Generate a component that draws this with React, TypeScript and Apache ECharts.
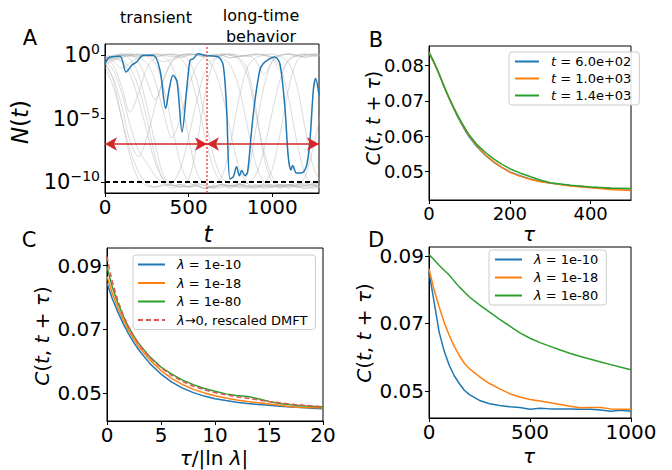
import React, { useEffect, useRef } from "react";
import * as echarts from "echarts";

// ---------- Panel A data (log10 N(t)) ----------
const T_GRID = [0, 50, 100, 150, 200, 250, 300, 350, 400, 450, 500, 550, 600, 650, 700, 750, 800, 850, 900, 950, 1000, 1050, 1100, 1150, 1200, 1250, 1300];
const GREY = [
  [-0.3, -0.2, 0, -0.1, 0.1, 0, -0.2, -0.5, -0.3, 0, 0.1, 0, -0.1, 0.1, 0, -0.2, -0.1, 0, 0.1, 0, -0.1, 0, 0.1, -0.1, 0, 0.1, 0],
  [-0.5, -2, -5, -8, -9.8, -10.3, -10.4, -10.2, -10.5, -10.3, -10.4, -10.2, -10.3, -10.5, -10.4, -10.3, -10.2, -10.4, -10.5, -10.3, -10.4, -10.2, -10.3, -10.4, -10.5, -10.3, -10.4],
  [-0.2, -0.1, 0, -0.3, -1.5, -4, -7, -9.5, -10.2, -10.4, -9.8, -7, -3, -0.5, 0, 0.1, -0.2, -1, -4, -8, -10, -10.3, -10.4, -10.2, -10.3, -10.1, -10.2],
  [-0.8, -0.4, -0.1, 0, 0.1, 0, -0.1, 0, 0.1, -0.2, -1.2, -3.5, -6.5, -9, -10.1, -10.3, -10.2, -9.5, -6, -2.5, -0.5, 0, 0.1, 0, -0.1, 0, 0.1],
  [-0.4, -1.2, -3, -5.5, -7.5, -8.5, -9.5, -10.1, -10.3, -10.2, -10.4, -10.3, -10.5, -10.2, -9.6, -7, -3.5, -1, -0.2, 0, 0.1, -0.1, -0.6, -2.5, -6, -9, -10.1],
  [-0.1, 0, 0.1, 0, -0.2, -0.6, -2, -4.5, -6.5, -5, -2.5, -0.8, -0.1, 0, 0.1, 0, -0.3, -1.5, -4.5, -7.5, -9.6, -10.3, -10.2, -10.4, -10.3, -10.2, -10.3],
  [-0.6, -0.3, -0.5, -1.5, -3.5, -6, -8.5, -9.8, -10.2, -10.4, -10.3, -10.1, -10.3, -10.4, -10.2, -10.3, -10.4, -10.5, -10.3, -10.1, -9, -6, -2.5, -0.4, 0, 0.1, 0],
  [-0.2, -0.5, -1, -0.6, -0.2, 0, 0.1, 0, -0.1, 0, 0.1, 0.05, -0.1, 0, -0.2, -0.8, -2.5, -5.5, -8.5, -10, -10.3, -10.4, -10.2, -10.3, -10.5, -10.4, -10.3],
  [-0.3, -0.8, -2.5, -4.5, -3, -1, -0.2, 0, 0.1, 0, -0.4, -2, -5, -8, -9.7, -10.2, -10.4, -10.3, -10.2, -10.4, -10.3, -10.5, -10.2, -10.3, -9.5, -7, -4],
  [-0.5, -0.2, 0, 0.1, 0, -0.1, 0, 0.1, 0, -0.2, 0, 0.1, 0, -0.1, 0.1, 0, -0.1, 0, -0.4, -1.5, -0.5, 0, 0.1, 0, -0.2, 0, 0.1],
  [-0.9, -2.5, -5, -7.5, -9.2, -10.1, -10.4, -10.3, -10.1, -9, -6.5, -3.5, -1.2, -0.3, 0, 0.1, 0, -0.1, 0, 0.1, -0.2, -1, -3.5, -7, -9.5, -10.2, -10.4],
  [-0.1, -0.3, -0.2, 0, -0.5, -2, -3.5, -2, -0.5, 0, 0.1, 0, -0.2, -1, -3, -6, -8.8, -10.1, -10.4, -10.3, -10.2, -10.4, -10.3, -10.1, -10.3, -10.5, -10.4],
  [-0.4, -0.1, 0, 0.1, 0, -0.1, -0.6, -2.5, -5.5, -8.5, -10, -10.3, -10.5, -10.4, -10.2, -10.3, -10.1, -10.4, -10.3, -10.5, -10.4, -10.2, -10.3, -10.4, -10.2, -10.3, -10.5],
  [-0.7, -1.8, -4, -6.8, -8, -6.5, -4, -1.8, -0.5, -0.1, 0, 0.1, 0, -0.1, 0, -0.2, -0.1, 0, 0.1, 0, -0.3, -1.2, -0.4, 0, 0.1, 0, -0.1],
  [-0.3, -0.1, -0.4, -1, -2.5, -5, -8, -9.9, -10.3, -10.2, -10.4, -10.3, -10.5, -10.3, -10.2, -10.4, -10.3, -10.1, -9.5, -7.5, -4.5, -1.8, -0.3, 0, 0.1, -0.1, 0],
  [-0.2, -0.1, 0.1, 0, -0.1, 0, 0.1, -0.1, -0.8, -3, -6.5, -9.3, -10.2, -10.4, -10.3, -10.5, -10.2, -10.3, -10.4, -10.2, -10.4, -10.3, -10.5, -10.2, -10.1, -10.3, -10.4],
];
const BLUE_T = [0, 15, 30, 90, 126, 160, 189, 230, 289, 329, 363, 385, 407, 431, 461, 490, 509, 529, 558, 597, 677, 707, 727, 747, 767, 787, 804, 818, 837, 853, 877, 897, 926, 946, 986, 1016, 1046, 1076, 1096, 1112, 1122, 1146, 1176, 1206, 1226, 1246, 1260, 1280];
const BLUE_N = [-0.72, -0.3, -0.13, -0.08, -1.32, -0.79, -0.53, 0, 0, -1.18, -4.2, -2.6, -1.58, -2.1, -6.05, -2.5, -0.39, -0.26, 0.13, 0, -0.13, -0.79, -4.1, -9.76, -9.6, -8.8, -9.5, -9.1, -9.5, -9.2, -5.9, -3.55, -1.18, -0.66, -0.26, -0.13, -0.66, -4.1, -8.0, -9.05, -8.7, -9.3, -9.3, -8.7, -6.7, -2.76, -1.84, -3.16];
const A_XTICKS = [0, 500, 1000];
const A_YTICKS = [-10, -5, 0];
const T_SPLIT = 610;
const ARROW_LEVEL = -7;
const FLOOR_LEVEL = -10;

// ---------- Panel B ----------
const B_TAU = [0, 10, 20, 30, 40, 50, 60, 70, 80, 90, 100, 120, 140, 160, 180, 200, 225, 250, 275, 300, 350, 400, 450, 500];
const B_600 = [0.0838, 0.0815, 0.079, 0.0762, 0.0733, 0.0706, 0.0681, 0.0657, 0.0635, 0.0615, 0.0597, 0.0568, 0.0545, 0.0526, 0.0511, 0.0498, 0.0487, 0.0478, 0.0471, 0.0466, 0.0459, 0.0454, 0.0451, 0.045];
const B_1000 = [0.0838, 0.0815, 0.079, 0.0762, 0.0733, 0.0707, 0.0683, 0.066, 0.0638, 0.0618, 0.06, 0.057, 0.0546, 0.0527, 0.0511, 0.0497, 0.0486, 0.0477, 0.047, 0.0466, 0.0458, 0.0453, 0.0448, 0.0445];
const B_1400 = [0.0838, 0.0815, 0.079, 0.0762, 0.0734, 0.0708, 0.0684, 0.0661, 0.064, 0.062, 0.0602, 0.0574, 0.0553, 0.0535, 0.052, 0.0507, 0.0495, 0.0485, 0.0475, 0.0467, 0.046, 0.0455, 0.0452, 0.0451];
const B_XTICKS = [0, 200, 400];
const B_YTICKS = [0.05, 0.06, 0.07, 0.08];

// ---------- Panel C ----------
const C_X = [0, 0.25, 0.5, 1, 1.5, 2, 2.5, 3, 4, 5, 6, 7, 8, 9, 10, 11, 12, 13, 14, 15, 16, 17, 18, 19, 20];
const C_10 = [0.0845, 0.082, 0.0795, 0.0755, 0.0718, 0.0686, 0.0658, 0.0633, 0.0592, 0.056, 0.0535, 0.0516, 0.0502, 0.0491, 0.0483, 0.0477, 0.0472, 0.0468, 0.0465, 0.0462, 0.0459, 0.0457, 0.0455, 0.0453, 0.0451];
const C_18 = [0.0866, 0.0838, 0.0812, 0.0768, 0.073, 0.0697, 0.0668, 0.0643, 0.0603, 0.0571, 0.0546, 0.0527, 0.0512, 0.0501, 0.0492, 0.0485, 0.0479, 0.0474, 0.047, 0.0466, 0.0462, 0.0458, 0.0455, 0.0455, 0.0454];
const C_80 = [0.0897, 0.0862, 0.0832, 0.0783, 0.0742, 0.0707, 0.0678, 0.0653, 0.0613, 0.0582, 0.056, 0.0541, 0.0527, 0.0515, 0.0506, 0.0498, 0.0493, 0.049, 0.0483, 0.0474, 0.0468, 0.0464, 0.0461, 0.0459, 0.0458];
const C_DMFT = [0.0928, 0.0885, 0.0848, 0.079, 0.0745, 0.0708, 0.0677, 0.0651, 0.0611, 0.058, 0.0556, 0.0537, 0.0522, 0.0511, 0.0502, 0.0495, 0.0489, 0.0484, 0.0479, 0.0474, 0.047, 0.0466, 0.0463, 0.046, 0.0457];
const C_XTICKS = [0, 5, 10, 15, 20];
const CD_YTICKS = [0.05, 0.07, 0.09];

// ---------- Panel D ----------
const D_TAU = [0, 25, 50, 75, 100, 125, 150, 175, 200, 250, 300, 350, 400, 450, 500, 550, 600, 650, 700, 750, 800, 850, 900, 950, 1000];
const D_10 = [0.0853, 0.0764, 0.0675, 0.0618, 0.0576, 0.0545, 0.0522, 0.0502, 0.0489, 0.0472, 0.0462, 0.0457, 0.0453, 0.0451, 0.0446, 0.0449, 0.0447, 0.0447, 0.0447, 0.0446, 0.0446, 0.0444, 0.044, 0.0443, 0.044];
const D_18 = [0.0862, 0.08, 0.0749, 0.0703, 0.0665, 0.0632, 0.0605, 0.0582, 0.0566, 0.0542, 0.0522, 0.0506, 0.0492, 0.0482, 0.0475, 0.047, 0.0465, 0.046, 0.0455, 0.045, 0.0451, 0.0451, 0.0447, 0.0446, 0.0446];
const D_80 = [0.0904, 0.0888, 0.0872, 0.0857, 0.0843, 0.0825, 0.0808, 0.0793, 0.0778, 0.0755, 0.0733, 0.0712, 0.0692, 0.0672, 0.0656, 0.0643, 0.0632, 0.0621, 0.0611, 0.0602, 0.0594, 0.0586, 0.0578, 0.057, 0.0563];
const D_XTICKS = [0, 500, 1000];

const BLUE = "#1f77b4";
const ORANGE = "#ff7f0e";
const GREEN = "#2ca02c";
const RED = "#d62728";
const FONT = "DejaVu Sans";

const zip = (xs: number[], ys: number[]) => xs.map((x, i) => [x, ys[i]]);

const LEGEND_LABELS: Record<string, string> = {
  b600: "{i|t} = 6.0e+02",
  b1000: "{i|t} = 1.0e+03",
  b1400: "{i|t} = 1.4e+03",
  c10: "{i|λ} = 1e-10",
  c18: "{i|λ} = 1e-18",
  c80: "{i|λ} = 1e-80",
  cdmft: "{i|λ}→0, rescaled DMFT",
  d10: "{i|λ} = 1e-10",
  d18: "{i|λ} = 1e-18",
  d80: "{i|λ} = 1e-80",
};

export default function App() {
  const ref = useRef<HTMLDivElement>(null);
  useEffect(() => {
    if (!ref.current) return;
    const chart = echarts.init(ref.current, null, { renderer: "svg" });

    const xAx = (gi: number, min: number, max: number, ticks: number[], fs: number) => ({
      type: "value", gridIndex: gi, min, max,
      axisLine: { show: true, onZero: false, lineStyle: { color: "#000", width: 1 } },
      axisTick: { show: true, length: 4, lineStyle: { color: "#000" }, customValues: ticks },
      axisLabel: { customValues: ticks, color: "#000", fontSize: fs, fontFamily: FONT, margin: 4, formatter: (v: number) => String(v) },
      splitLine: { show: false },
    });
    const yAx = (gi: number, min: number, max: number, ticks: number[], fs: number, fmt: any) => ({
      type: "value", gridIndex: gi, min, max,
      axisLine: { show: true, onZero: false, lineStyle: { color: "#000", width: 1 } },
      axisTick: { show: true, length: 4, lineStyle: { color: "#000" }, customValues: ticks },
      axisLabel: {
        customValues: ticks, color: "#000", fontSize: fs, fontFamily: FONT, margin: 5, formatter: fmt,
        rich: { s: { fontSize: 14, fontFamily: FONT, color: "#000", padding: [0, 0, 12, 0] } },
      },
      splitLine: { show: false },
    });

    const line = (name: string, xi: number, data: number[][], color: string, ls: any = {}, extra: any = {}) => ({
      name, type: "line", xAxisIndex: xi, yAxisIndex: xi, data, showSymbol: false, symbol: "none",
      lineStyle: { color, width: 1.5, ...ls }, itemStyle: { color },
      silent: true, ...extra,
    });

    const legendBase = {
      orient: "vertical", itemHeight: 14, backgroundColor: "rgba(255,255,255,0.85)",
      borderColor: "#cccccc", borderWidth: 1, borderRadius: 3,
      itemStyle: { opacity: 0, borderWidth: 0 },
      lineStyle: { width: 2 },
      textStyle: { fontSize: 13, fontFamily: FONT, color: "#000", padding: [0, 0, 0, 7], rich: { i: { fontSize: 13, fontFamily: FONT, fontStyle: "italic", color: "#000" } } },
      formatter: (n: string) => LEGEND_LABELS[n],
      selectedMode: false,
    };

    const greySeries = GREY.map((g, i) => ({
      name: "g" + i, type: "line", xAxisIndex: 0, yAxisIndex: 0, data: zip(T_GRID, g),
      showSymbol: false, symbol: "none", smooth: 0.3, silent: true,
      lineStyle: { color: "#b0b0b0", width: 1, opacity: 0.45 },
    }));

    const fmtPow = (v: number) => (v === 0 ? "10{s|0}" : "10{s|−" + Math.abs(v) + "}");
    const fmt2 = (v: number) => v.toFixed(2);

    const txt = (text: string, x: number, y: number, fs: number, extra: any = {}) => ({
      type: "text", x, y, silent: true, ...extra,
      style: {
        text, fontSize: fs, fontFamily: FONT, fill: "#000", align: "center", verticalAlign: "middle",
        rich: {
          i: { fontSize: fs, fontFamily: FONT, fontStyle: "italic", fill: "#000" },
        },
        ...(extra.style || {}),
      },
    });

    const option: any = {
      animation: false,
      backgroundColor: "#fff",
      grid: [
        { left: 105, top: 44, width: 214, height: 149, show: true, borderColor: "#000", borderWidth: 1, backgroundColor: "transparent" },
        { left: 429, top: 46, width: 202, height: 154, show: true, borderColor: "#000", borderWidth: 1, backgroundColor: "transparent" },
        { left: 107, top: 248, width: 216, height: 173, show: true, borderColor: "#000", borderWidth: 1, backgroundColor: "transparent" },
        { left: 429, top: 247, width: 202, height: 171, show: true, borderColor: "#000", borderWidth: 1, backgroundColor: "transparent" },
      ],
      xAxis: [
        xAx(0, 0, 1280, A_XTICKS, 20),
        xAx(1, 0, 500, B_XTICKS, 18),
        xAx(2, 0, 20, C_XTICKS, 20),
        xAx(3, 0, 1000, D_XTICKS, 20),
      ],
      yAxis: [
        yAx(0, -10.87, 0.89, A_YTICKS, 21, fmtPow),
        yAx(1, 0.0418, 0.0856, B_YTICKS, 18, fmt2),
        yAx(2, 0.0413, 0.0955, CD_YTICKS, 20, fmt2),
        yAx(3, 0.042, 0.0926, CD_YTICKS, 20, fmt2),
      ],
      legend: [
        { ...legendBase, data: ["b600", "b1000", "b1400"], left: 509, top: 52, itemWidth: 24, itemGap: 4, padding: [3, 8, 3, 5] },
        { ...legendBase, data: ["c10", "c18", "c80", "cdmft"], left: 133, top: 255, itemWidth: 27, itemGap: 5.5, padding: [3, 8, 3, 4] },
        { ...legendBase, data: ["d10", "d18", "d80"], left: 489, top: 250, itemWidth: 27, itemGap: 5, padding: [3, 8, 3, 5] },
      ],
      series: [
        ...greySeries,
        {
          name: "floor", type: "line", xAxisIndex: 0, yAxisIndex: 0, data: [], silent: true,
          markLine: {
            silent: true, symbol: "none", label: { show: false },
            lineStyle: { color: "#000", width: 2, type: [5, 3] },
            data: [{ yAxis: FLOOR_LEVEL }],
          },
        },
        line("blueA", 0, zip(BLUE_T, BLUE_N), BLUE, {}, { smooth: 0.3 }),
        {
          name: "split", type: "line", xAxisIndex: 0, yAxisIndex: 0, data: [], silent: true,
          markLine: {
            silent: true, symbol: "none", label: { show: false },
            lineStyle: { color: "#f05050", width: 1.5, type: [2, 2] },
            data: [{ xAxis: T_SPLIT }],
          },
        },
        {
          name: "arrows", type: "line", xAxisIndex: 0, yAxisIndex: 0, data: [], silent: true,
          markLine: {
            silent: true, symbol: ["arrow", "arrow"], symbolSize: [10, 12], label: { show: false },
            lineStyle: { color: RED, width: 1.5, type: "solid" },
            data: [
              [{ coord: [0, ARROW_LEVEL] }, { coord: [T_SPLIT, ARROW_LEVEL] }],
              [{ coord: [T_SPLIT, ARROW_LEVEL] }, { coord: [1280, ARROW_LEVEL] }],
            ],
          },
        },
        line("b600", 1, zip(B_TAU, B_600), BLUE),
        line("b1000", 1, zip(B_TAU, B_1000), ORANGE),
        line("b1400", 1, zip(B_TAU, B_1400), GREEN),
        line("c10", 2, zip(C_X, C_10), BLUE),
        line("c18", 2, zip(C_X, C_18), ORANGE),
        line("c80", 2, zip(C_X, C_80), GREEN),
        line("cdmft", 2, zip(C_X, C_DMFT), "#e05555", { type: [5, 3] }),
        line("d10", 3, zip(D_TAU, D_10), BLUE),
        line("d18", 3, zip(D_TAU, D_18), ORANGE),
        line("d80", 3, zip(D_TAU, D_80), GREEN),
      ],
      graphic: [
        txt("A", 30, 37.5, 21),
        txt("B", 376, 39.5, 21),
        txt("C", 29, 240, 21),
        txt("D", 376, 240, 21),
        txt("transient", 156, 17, 16),
        txt("long-time\nbehavior", 261, 26, 16, { style: { lineHeight: 21 } }),
        txt("{i|N}({i|t})", 20, 122, 23, { rotation: Math.PI / 2 }),
        txt("{i|t}", 208, 234, 23),
        txt("{i|C}({i|t}, {i|t} + {i|τ})", 373, 118, 19, { rotation: Math.PI / 2 }),
        txt("{i|τ}", 529, 234, 20),
        txt("{i|C}({i|t}, {i|t} + {i|τ})", 42, 336, 20, { rotation: Math.PI / 2 }),
        txt("{i|τ}/|ln {i|λ}|", 214, 458, 20),
        txt("{i|C}({i|t}, {i|t} + {i|τ})", 364, 333, 20, { rotation: Math.PI / 2 }),
        txt("{i|τ}", 529, 456, 20),
      ],
    };
    chart.setOption(option);
    return () => chart.dispose();
  }, []);
  return <div ref={ref} style={{ position: "fixed", left: 0, top: 0, width: 672, height: 470 }} />;
}
